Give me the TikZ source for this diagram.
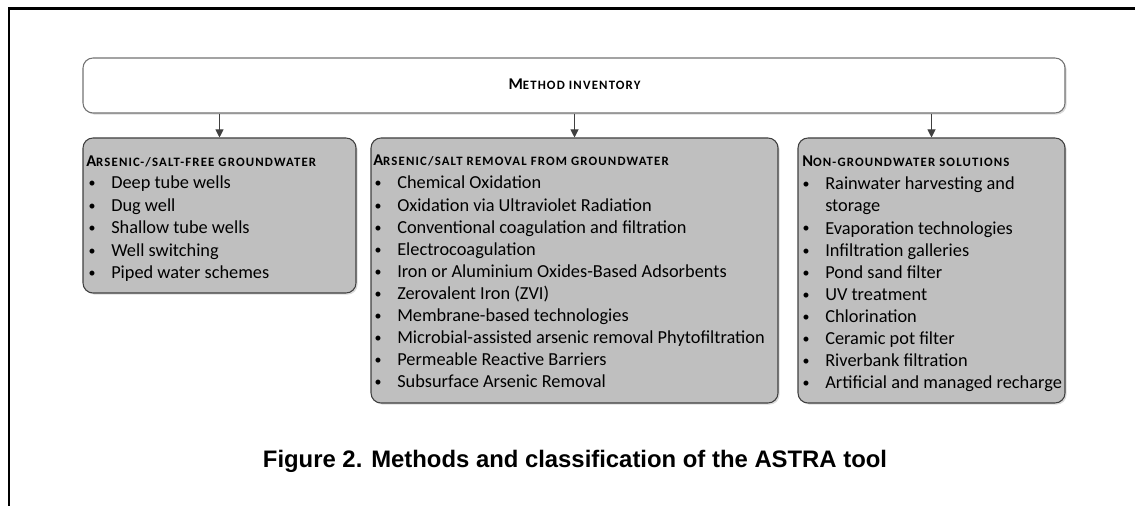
\documentclass[tikz,border=0pt]{standalone}
\usepackage{fontspec}
\setmainfont{Carlito}
\newfontfamily\capfont{Liberation Sans}
\usetikzlibrary{arrows.meta,shadows}
\newcommand{\hdr}[2]{{\bfseries\fontsize{12.3}{14}\selectfont #1\fontsize{9.6}{10}\selectfont\addfontfeature{LetterSpace=9}#2}}
\definecolor{boxgray}{HTML}{BFBFBF}
\definecolor{edgegray}{HTML}{404040}
\begin{document}
\begin{tikzpicture}[x=0.75pt,y=-0.75pt,
  box/.style={draw=edgegray, line width=0.8pt, rounded corners=7.5pt, fill=boxgray, inner sep=0pt,
    drop shadow={shadow xshift=1.2pt, shadow yshift=-1.2pt, fill=black!18, opacity=0.8}},
  topbox/.style={box, fill=white, draw=black!55},
  arr/.style={draw=edgegray, line width=0.8pt, -{Triangle[length=6pt,width=6pt]}},
  txt/.style={inner sep=0pt, anchor=base west, font=\fontsize{13.75}{16}\selectfont},
  bul/.style={inner sep=0pt, anchor=base, font=\fontsize{10.5}{12}\selectfont},
  head/.style={inner sep=0pt, anchor=base west}]
\useasboundingbox (0,0) rectangle (1135,506);
\draw[line width=1.9pt] (9,506) -- (9,8.3) -- (1135,8.3);

\node[topbox, minimum width=736.5pt, minimum height=41.25pt] (top) at (574,85.5) {};
\node[box, minimum width=204.75pt, minimum height=116.25pt] (L) at (219.5,215.5) {};
\node[box, minimum width=305.25pt, minimum height=198.75pt] (M) at (574.5,270.5) {};
\node[box, minimum width=200.25pt, minimum height=198.75pt] (R) at (931.5,270.5) {};

\node[inner sep=0pt, anchor=base] (tt) at (574.5,90) {\hdr{M}{ETHOD INVENTORY}};

\draw[arr] (top.south -| L.north) -- (L.north);
\draw[arr] (top.south -| M.north) -- (M.north);
\draw[arr] (top.south -| R.north) -- (R.north);

% left
\node[head] (Lh) at (86,167) {\hdr{A}{RSENIC-/SALT-FREE GROUNDWATER}};
\foreach \t [count=\i from 0] in {Deep tube wells, Dug well, Shallow tube wells, Well switching, Piped water schemes}{
  \node[bul] (Lb\i) at (92,188+22.4*\i) {•};
  \node[txt] (Lt\i) at (111,189+22.4*\i) {\t};
}
% middle
\node[head] (Mh) at (373,166) {\hdr{A}{RSENIC/SALT REMOVAL FROM GROUNDWATER}};
\foreach \t [count=\i from 0] in {Chemical Oxidation, Oxidation via Ultraviolet Radiation, Conventional coagulation and filtration, Electrocoagulation, Iron or Aluminium Oxides-Based Adsorbents, Zerovalent Iron (ZVI), Membrane-based technologies, Microbial-assisted arsenic removal Phytofiltration, Permeable Reactive Barriers, Subsurface Arsenic Removal}{
  \node[bul] (Mb\i) at (378,188+22.1*\i) {•};
  \node[txt] (Mt\i) at (397,189+22.1*\i) {\t};
}
% right
\node[head] (Rh) at (802,167) {\hdr{N}{ON-GROUNDWATER SOLUTIONS}};
\node[bul] (Rb0) at (806,189) {•};
\node[txt] (Rt0) at (825,190) {Rainwater harvesting and};
\node[txt] (Rt0b) at (825,212) {storage};
\foreach \t [count=\i from 2] in {Evaporation technologies, Infiltration galleries, Pond sand filter, UV treatment, Chlorination, Ceramic pot filter, Riverbank filtration, Artificial and managed recharge}{
  \node[bul] (Rb\i) at (806,189+22*\i) {•};
  \node[txt] (Rt\i) at (825,190+22*\i) {\t};
}

\node[inner sep=0pt, anchor=base, font=\capfont\bfseries\fontsize{17.9}{20}\selectfont] (cap) at (575,467) {Figure 2. Methods and classification of the ASTRA tool};
\end{tikzpicture}
\end{document}
